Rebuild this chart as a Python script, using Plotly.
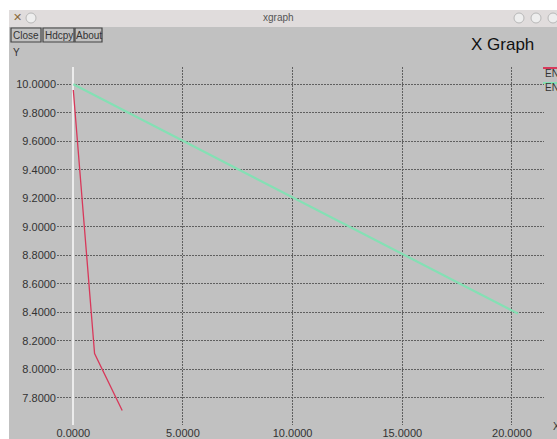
import plotly.graph_objects as go

# ---- data ----
red_x = [0.0, 0.97, 2.23]
red_y = [9.96, 8.11, 7.71]
green_x = [0.0, 20.28]
green_y = [10.0, 8.39]
x_ticks = [0, 5, 10, 15, 20]
legend_labels = ["ENERGY", "ENERGY"]
buttons = ["Close", "Hdcpy", "About"]

W, H = 557, 439
L, R, T, B = 57, 544, 67, 425  # plot area in pixels

def px(x):
    return (x - L) / (R - L)

def py(y):
    return (B - y) / (B - T)

GRAY = "#c1c1c1"
RED = "#d8385a"
GREEN = "#84e0b4"
TXT = "#333333"
FONT = "Liberation Sans"

fig = go.Figure()
fig.add_trace(go.Scatter(x=red_x, y=red_y, mode="lines",
                         line=dict(color=RED, width=1.3), name=legend_labels[0]))
fig.add_trace(go.Scatter(x=green_x, y=green_y, mode="lines",
                         line=dict(color=GREEN, width=2.2), name=legend_labels[1]))

shapes = []
annotations = []
# window body and title bar
shapes.append(dict(type="rect", xref="paper", yref="paper", layer="below",
                   x0=px(9), x1=px(W + 5), y0=py(27), y1=py(H + 5),
                   fillcolor=GRAY, line=dict(width=0)))
shapes.append(dict(type="rect", xref="paper", yref="paper", layer="below",
                   x0=px(9), x1=px(W + 5), y0=py(10), y1=py(27),
                   fillcolor="#e0dcdc", line=dict(width=0)))
annotations.append(dict(text="xgraph", xref="paper", yref="paper", x=px(278), y=py(18),
                        showarrow=False, font=dict(family=FONT, size=10, color="#555"),
                        xanchor="center", yanchor="middle"))
# title bar icons
annotations.append(dict(text="✕", xref="paper", yref="paper", x=px(17), y=py(18),
                        showarrow=False, font=dict(family="DejaVu Sans", size=11, color="#8a6a3a"),
                        xanchor="center", yanchor="middle"))
for cx in [31, 519, 536, 553]:
    shapes.append(dict(type="circle", xref="paper", yref="paper",
                       x0=px(cx - 5), x1=px(cx + 5), y0=py(13), y1=py(23),
                       fillcolor="#eeeeee", line=dict(color="#b8b8b8", width=1)))
# buttons
bx = [(11, 41), (43, 74), (75, 102)]
for (a, b), lab in zip(bx, buttons):
    shapes.append(dict(type="rect", xref="paper", yref="paper",
                       x0=px(a), x1=px(b), y0=py(42), y1=py(28),
                       fillcolor=GRAY, line=dict(color="#444", width=1.2)))
    annotations.append(dict(text=lab, xref="paper", yref="paper", x=px((a + b) / 2), y=py(35),
                            showarrow=False, font=dict(family=FONT, size=10, color=TXT),
                            xanchor="center", yanchor="middle"))
annotations.append(dict(text="X Graph", xref="paper", yref="paper", x=px(536), y=py(45),
                        showarrow=False, font=dict(family=FONT, size=17, color="#111"),
                        xanchor="right", yanchor="middle"))
annotations.append(dict(text="Y", xref="paper", yref="paper", x=px(11), y=py(52),
                        showarrow=False, font=dict(family=FONT, size=10, color=TXT),
                        xanchor="left", yanchor="middle"))
annotations.append(dict(text="X", xref="paper", yref="paper", x=px(551), y=py(426),
                        showarrow=False, font=dict(family=FONT, size=10, color=TXT),
                        xanchor="left", yanchor="middle"))
# legend
for i, (lab, col) in enumerate(zip(legend_labels, [RED, GREEN])):
    yl = 68 + i * 15
    shapes.append(dict(type="line", xref="paper", yref="paper",
                       x0=px(543), x1=px(W + 5), y0=py(yl), y1=py(yl),
                       line=dict(color=col, width=2)))
    annotations.append(dict(text=lab, xref="paper", yref="paper", x=px(543), y=py(yl + 5),
                            showarrow=False, font=dict(family=FONT, size=10, color=TXT),
                            xanchor="left", yanchor="middle"))

x_per_px = 1 / 21.93
y_per_px = 1 / 142.45
x0_px = 73.3
y10_px = 84.3
xr = [(L - x0_px) * x_per_px, (R - x0_px) * x_per_px]
yr = [10 - (B - y10_px) * y_per_px, 10 + (y10_px - T) * y_per_px]

GRID = "#606060"
fig.update_layout(
    width=W, height=H,
    margin=dict(l=L, r=W - R, t=T, b=H - B, pad=0),
    paper_bgcolor="white", plot_bgcolor=GRAY,
    showlegend=False,
    shapes=shapes, annotations=annotations,
    font=dict(family=FONT, size=11, color=TXT),
    xaxis=dict(range=xr, tickvals=x_ticks, tickformat=".4f", showgrid=True,
               gridcolor=GRID, griddash="2px,1px", gridwidth=1,
               zeroline=True, zerolinecolor="#ececec", zerolinewidth=2,
               showline=False, ticks="", automargin=False,
               tickfont=dict(family=FONT, size=11, color=TXT)),
    yaxis=dict(range=yr, dtick=0.2, tick0=7.8, tickformat=".4f", showgrid=True,
               gridcolor=GRID, griddash="2px,1px", gridwidth=1,
               zeroline=False, showline=False, ticks="", automargin=False,
               tickfont=dict(family=FONT, size=11, color=TXT)),
)

fig.write_html("out.html", config={"displayModeBar": False},
               post_script="document.body.style.margin='0';document.body.style.padding='0';")
